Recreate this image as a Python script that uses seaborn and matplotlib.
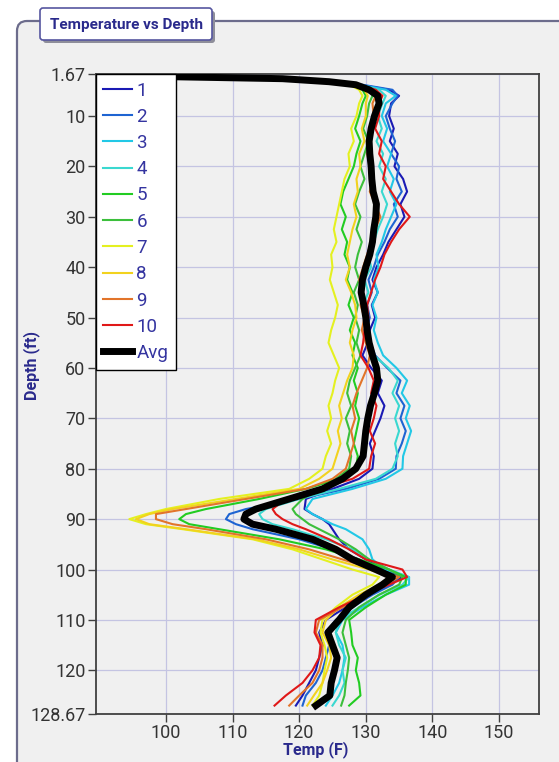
import matplotlib
matplotlib.use("Agg")
import matplotlib.pyplot as plt
from matplotlib.patches import FancyBboxPatch
from matplotlib.transforms import Affine2D
import seaborn as sns
import pandas as pd

# ---------------- data ----------------
DEPTH = [1.67, 2.2, 2.6, 3.2, 3.8, 4.8, 6.0, 7.5,
         10, 12.5, 15, 17.5, 20, 22.5, 25, 27.5, 30, 32.5, 35, 37.5, 40, 42.5, 45, 47.5,
         50, 52.5, 55, 57.5, 60, 62.5, 65, 67.5, 70, 72.5, 75, 77.5,
         80, 82, 84, 86, 88, 89, 90, 91, 92, 94, 96, 98, 100, 101.5, 103, 105, 107.5,
         110, 112.5, 115, 117.5, 120, 122.5, 125, 127]

T1 = [60, 100, 117, 124, 129, 133.5, 135, 133.8,
      133.5, 134.2, 133.6, 134.8, 134.3, 135.6, 136.2, 135.2, 135.8, 134.6, 133.4, 132.6, 131.6, 131, 131.8, 130.9,
      131.4, 130.6, 130.3, 129.5, 130.8, 132.4, 131.8, 132.8, 132.2, 131.4, 130.6, 131.2,
      131, 129, 125, 121, 120.8, 122, 123.5, 124.5, 125, 126, 127.5, 130, 133, 135.5, 133.5, 130.5, 127,
      124, 123, 123.5, 123, 122.5, 121.5, 120.5, 119.5]
T2 = [60, 100, 117, 124, 129.5, 134, 134.8, 134,
      133, 133.6, 134.4, 133.8, 135, 134.6, 135.4, 134.2, 134.8, 133.6, 132.8, 131.8, 131.2, 130.4, 130.9, 130.2,
      130.6, 130.1, 130.7, 131.4, 133.2, 135.2, 134.6, 135.8, 135.2, 136, 135.4, 134.6,
      134.5, 132, 127, 120, 112, 109.5, 109, 110.5, 113, 120, 125, 129, 132.5, 135, 134, 131, 128,
      125.5, 124, 124.5, 124, 123.5, 122.5, 121, 120.5]
T3 = [60, 100, 117, 124, 129, 133, 134.5, 133,
      132.4, 133.2, 132.6, 133.8, 133.2, 134.2, 133.6, 134.6, 133.8, 133, 132.4, 131.6, 131.9, 131.2, 131.8, 131,
      131.6, 131.2, 131.8, 132.6, 134.6, 136.2, 135.4, 136.6, 136, 136.8, 136.2, 135.6,
      135.5, 133, 128, 122, 121, 122, 123.5, 125, 127, 129.5, 130.5, 131, 133, 136.5, 136.5, 133, 129.5,
      126.5, 125.5, 126.5, 126.8, 126.5, 126, 125, 124]
T4 = [60, 100, 117, 124, 128.5, 132, 133, 132.5,
      131.8, 132.4, 131.6, 132.6, 132, 133, 132.4, 133.2, 132.6, 131.8, 131.2, 130.4, 130.8, 129.8, 130.4, 129.6,
      130.2, 129.8, 130.6, 131.2, 133.4, 134.8, 134, 135, 134.4, 135, 134.4, 134.8,
      134, 131.5, 126, 120, 115, 114, 114.5, 116, 119, 124, 128, 130.5, 133.5, 136.5, 135.5, 132, 129,
      126, 125.5, 126, 127, 126.5, 126.8, 126, 125]
T5 = [60, 102, 119, 125, 128, 129.5, 130, 129.5,
      129, 128.4, 129.2, 128.6, 128.2, 127.4, 126.6, 126.2, 127, 126.4, 127.2, 126.8, 127.6, 127.2, 128, 127.4,
      128.2, 127.6, 128.4, 128, 128.8, 128.2, 128.8, 128.4, 129, 128.6, 128.2, 128.8,
      128.5, 126, 121, 114, 106, 103, 102, 103.5, 108, 117, 124, 129, 133.5, 136, 136, 133, 130,
      127.5, 127.8, 128, 128.8, 128.5, 129, 129.2, 127.5]
T6 = [60, 102, 119, 125, 128.5, 130.5, 131, 130.5,
      130.2, 129.6, 130.4, 129.8, 129.2, 129.8, 129, 128.4, 129.2, 128.6, 129.4, 128.8, 128.4, 129, 128.2, 128.8,
      128.4, 129, 128.6, 129.2, 128.4, 127.6, 127.2, 127.8, 127, 127.6, 127.2, 127.8,
      127.5, 125.5, 123, 120.5, 119, 119.5, 120.5, 121.5, 123, 126, 128.5, 130.5, 133.5, 135.5, 135, 132, 129,
      127, 126.5, 127, 127.5, 127.3, 127, 126.8, 126.3]
T7 = [60, 101, 118, 124.5, 127.5, 129, 129.5, 129,
      128.6, 127.8, 128.2, 127.4, 127.6, 126.8, 126.4, 126, 125.6, 125.2, 125.6, 124.8, 125, 124.6, 125.2, 125.8,
      125.4, 124.8, 124.4, 125.2, 126, 125.4, 125, 124.4, 124.8, 124.2, 124.8, 124,
      123.5, 121.5, 118.5, 108, 100, 97, 94.5, 97, 102.5, 113, 119, 123.5, 128, 132, 131, 128, 125.5,
      123.5, 123.2, 123.8, 124.2, 123.8, 123.5, 123, 122]
T8 = [60, 101, 118, 124.5, 128, 129.8, 130.3, 130,
      130, 129.4, 129.8, 129, 129.2, 128.6, 128.8, 128.2, 128.6, 128, 127.6, 127.2, 127.6, 127, 127.8, 128.4,
      128.6, 128, 127.6, 128.2, 128, 127.2, 126.6, 126, 126.4, 125.8, 126.2, 125.6,
      125, 123, 120, 110.5, 101, 97.5, 95.5, 97.5, 103, 113.5, 120, 125, 130.5, 133.5, 132, 129, 126,
      124, 123.5, 124.5, 124.8, 124.2, 123.5, 122.2, 121.2]
T9 = [60, 100, 117, 124.5, 128.5, 130.5, 131.5, 131,
      131.2, 130.6, 130.8, 130.2, 130.6, 131, 130.6, 131.4, 132.2, 131.4, 130.8, 130.2, 129.6, 129, 129.6, 129.2,
      129.8, 129.4, 130, 130.6, 130.2, 129.4, 128.6, 128, 128.4, 127.8, 128.2, 127.6,
      127, 125, 121, 112, 103, 98.5, 98.5, 101, 106, 115, 121.5, 126.5, 131.5, 135, 133, 130, 126.5,
      123, 122.5, 123.5, 123.5, 123, 122, 120, 118.5]
T10 = [60, 100, 117, 124, 129, 131.5, 132.5, 132,
       132, 131.4, 132.4, 132, 133, 132.6, 133.8, 135, 136.6, 135, 133.8, 132.8, 132.2, 131.4, 130.8, 130.2,
       130.4, 129.8, 129.6, 129.2, 130.4, 131.2, 130.8, 131.6, 131.2, 130.6, 131.4, 130.8,
       130.5, 128, 123, 118, 116, 116.5, 117.5, 119, 121, 124.5, 127.5, 130, 135.5, 136.2, 133.5, 130, 126,
       122.5, 122.3, 123.2, 123, 122, 120.5, 118, 116.3]
TAVG = [60, 100.5, 117.5, 124.5, 128.5, 130.5, 131.8, 132,
        131.3, 130.8, 130.5, 130.6, 130.8, 130.9, 131.1, 131.6, 131.5, 131.2, 131, 130.6, 130, 129.5, 129.3, 129.7,
        130, 130.2, 130.5, 131, 131.6, 131.8, 131.3, 130.7, 130.3, 130, 129.8, 129.6,
        128.5, 126.5, 123.5, 118.5, 113.5, 112, 111.7, 113, 116.5, 122, 125.5, 128, 131.5, 134, 132.5, 130, 127.5,
        126, 124.3, 125, 125.7, 125.3, 124.8, 124.6, 122.5]

SERIES = ["1", "2", "3", "4", "5", "6", "7", "8", "9", "10", "Avg"]
VALUES = [T1, T2, T3, T4, T5, T6, T7, T8, T9, T10, TAVG]
COLORS = ["#1a1ab4", "#1e64d2", "#22c8e6", "#3ad8d0", "#22cc22", "#3cbf3c",
          "#e4f020", "#f2d21e", "#e2742a", "#e01818", "#000000"]

Y_TICKS = [1.67, 10, 20, 30, 40, 50, 60, 70, 80, 90, 100, 110, 120, 128.67]
Y_TICK_LABELS = ["1.67", "10", "20", "30", "40", "50", "60", "70", "80", "90",
                 "100", "110", "120", "128.67"]
X_TICKS = [100, 110, 120, 130, 140, 150]

rows = []
for name, vals in zip(SERIES, VALUES):
    for d, t in zip(DEPTH, vals):
        rows.append({"series": name, "depth": d, "temp": t})
df = pd.DataFrame(rows)

# ---------------- figure ----------------
W, H = 559, 762
fig = plt.figure(figsize=(W / 100, H / 100), dpi=100, facecolor="white")
pix = Affine2D().scale(1, -1).translate(0, H)

# group box
fig.add_artist(FancyBboxPatch((17, 21), 700, 900,
                              boxstyle="round,pad=0,rounding_size=10",
                              fc="#f0f0f0", ec="#6c6c8c", lw=1.6, transform=pix, zorder=0))

FONT = ["Roboto", "DejaVu Sans"]
BLUE = "#2a2a8c"

ax = fig.add_axes([96 / W, 1 - 714 / H, (539 - 96) / W, (714 - 74) / H])
ax.set_facecolor("#f0f0f0")

for name, col in zip(SERIES, COLORS):
    sub = df[df["series"] == name]
    sns.lineplot(data=sub, x="temp", y="depth", orient="y", sort=False, estimator=None,
                 color=col, lw=5.0 if name == "Avg" else 1.5, label=name, ax=ax,
                 zorder=3 if name == "Avg" else 2)

ax.set_xlim(89.5, 156)
ax.set_ylim(128.67, 1.67)
ax.set_xticks(X_TICKS)
ax.set_xticklabels([str(v) for v in X_TICKS])
ax.set_yticks(Y_TICKS)
ax.set_yticklabels(Y_TICK_LABELS)
ax.grid(True, color="#c4c4e2", lw=0.9)
ax.set_axisbelow(True)
for s in ax.spines.values():
    s.set_color("#404040")
    s.set_linewidth(1.3)
ax.tick_params(axis="both", direction="out", length=6, width=1, color="#404040",
               labelcolor="#333333", pad=1.5)
for lab in ax.get_xticklabels() + ax.get_yticklabels():
    lab.set_family(FONT)
    lab.set_fontsize(13)
ax.set_xlabel("")
ax.set_ylabel("")

leg = ax.legend(loc="upper left", bbox_to_anchor=(0, 1), borderaxespad=0,
                frameon=True, fancybox=False, framealpha=1, facecolor="white",
                edgecolor="black", handlelength=1.5, handletextpad=0.25,
                labelspacing=0.44, borderpad=0.4, labelcolor="#3434a0",
                prop={"family": FONT, "size": 13.5})
leg.get_frame().set_linewidth(1.0)
leg.set_zorder(10)

# axis labels
fig.text(316 / W, 1 - 750 / H, "Temp (F)", ha="center", va="center",
         fontsize=11.5, fontweight="bold", color=BLUE, family=FONT)
fig.text(32 / W, 1 - 365 / H, "Depth (ft)", ha="center", va="center", rotation=90,
         fontsize=11.5, fontweight="bold", color=BLUE, family=FONT)

# title box
fig.add_artist(FancyBboxPatch((43, 11), 172, 32, boxstyle="round,pad=0,rounding_size=3",
                              fc="#8e8e9a", ec="none", transform=pix, zorder=1))
fig.add_artist(FancyBboxPatch((40, 8), 172, 32, boxstyle="round,pad=0,rounding_size=3",
                              fc="white", ec="#5656a0", lw=1.2, transform=pix, zorder=2))
fig.text(126 / W, 1 - 25 / H, "Temperature vs Depth", ha="center", va="center",
         fontsize=11, fontweight="bold", color=BLUE, family=FONT, zorder=3)

fig.savefig("out.png", dpi=100, facecolor="white")
